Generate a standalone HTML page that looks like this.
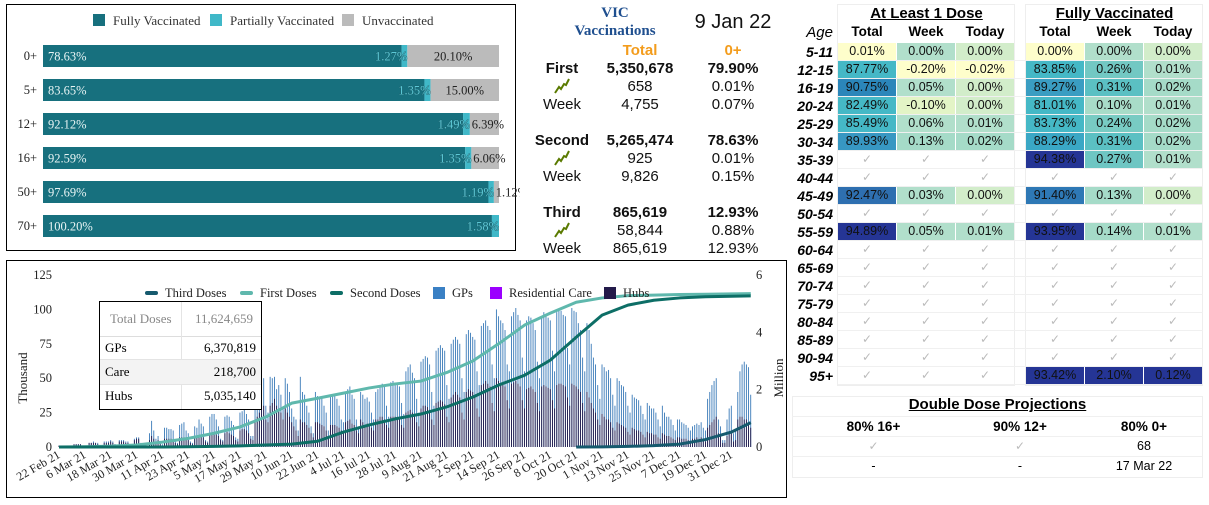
<!DOCTYPE html>
<html><head><meta charset="utf-8">
<style>
body{margin:0;width:1209px;height:505px;background:#fff;position:relative;overflow:hidden;font-family:"Liberation Sans",sans-serif;}
.abs{position:absolute;}
.box{position:absolute;border:1.5px solid #000;box-sizing:border-box;}
.mid{position:absolute;text-align:center;font-size:15px;color:#111;}
.b{font-weight:bold;}
.cell{position:absolute;height:17px;line-height:17px;text-align:center;font-size:12.5px;color:#111;}
.age{position:absolute;width:50px;text-align:right;font-weight:bold;font-style:italic;font-size:14px;height:18px;line-height:18px;}
.chk{color:#bbb;font-size:12px;}
.hd{position:absolute;text-align:center;font-weight:bold;font-size:13.5px;}
</style></head><body>

<!-- TOP LEFT BAR CHART -->
<div class="box" style="left:6px;top:4px;width:510px;height:247px;"></div>
<svg class="abs" id="barsvg" style="left:0;top:0" width="520" height="255"></svg>

<!-- MIDDLE STATS -->
<div class="mid" style="left:560px;top:4px;width:110px;font-family:'Liberation Serif',serif;font-weight:bold;color:#1f4f8f;font-size:15px;line-height:18px;">VIC<br>Vaccinations</div>
<div class="mid" style="left:685px;top:11px;width:96px;font-size:20px;">9 Jan 22</div>
<div class="mid b" style="left:600px;top:42px;width:80px;color:#f39c1c;">Total</div>
<div class="mid b" style="left:700px;top:42px;width:66px;color:#f39c1c;">0+</div>
<div id="stats"></div>

<!-- RIGHT TABLE -->
<div id="tbl"></div>

<!-- BOTTOM CHART -->
<div class="box" style="left:6px;top:260px;width:781px;height:238px;"></div>
<svg class="abs" id="dsvg" style="left:0;top:255px" width="790" height="250"></svg>

<div class="abs" style="left:99px;top:301px;width:163px;height:109px;border:1px solid #000;box-sizing:border-box;background:#fff;font-family:'Liberation Serif',serif;font-size:13px;">
  <div class="abs" style="left:0;top:0;width:161px;height:34px;border-bottom:1px solid #ddd;color:#888;"><span class="abs" style="left:10px;top:9px">Total Doses</span><span class="abs" style="right:8px;top:9px">11,624,659</span></div>
  <div class="abs" style="left:81px;top:0;width:1px;height:107px;background:#e4e4e4"></div>
  <div class="abs" style="left:0;top:34px;width:161px;height:23px;"><span class="abs" style="left:5px;top:4px">GPs</span><span class="abs" style="right:5px;top:4px">6,370,819</span></div>
  <div class="abs" style="left:0;top:57px;width:161px;height:24px;background:#f3f3f3;border-top:1px solid #e4e4e4;border-bottom:1px solid #e4e4e4"><span class="abs" style="left:5px;top:4px">Care</span><span class="abs" style="right:5px;top:4px">218,700</span></div>
  <div class="abs" style="left:0;top:82px;width:161px;height:24px;"><span class="abs" style="left:5px;top:4px">Hubs</span><span class="abs" style="right:5px;top:4px">5,035,140</span></div>
</div>

<script>
// ---------- top bar chart ----------
const ageGroups=["0+","5+","12+","16+","50+","70+"];
const fullyPct=[78.63,83.65,92.12,92.59,97.69,100.20];
const partialPct=[1.27,1.35,1.49,1.35,1.19,1.58];
const unvaccPct=[20.10,15.00,6.39,6.06,1.12,0];
const NS="http://www.w3.org/2000/svg";
function mk(svg,tag,attrs,txt){const e=document.createElementNS(NS,tag);for(const k in attrs)e.setAttribute(k,attrs[k]);if(txt!==undefined)e.textContent=txt;svg.appendChild(e);return e;}
(function(){
 const s=document.getElementById('barsvg');
 const x0=43,W=456;
 const yC=i=>56+i*34;
 const leg=[["Fully Vaccinated","#17707e",93],["Partially Vaccinated","#40b8c8",210],["Unvaccinated","#bbbbbb",342]];
 leg.forEach(l=>{const r=mk(s,'rect',{x:l[2],y:14,width:12,height:12,fill:l[1]});
  
  const t=mk(s,'text',{x:l[2]+20,y:25,'font-family':'Liberation Serif, serif','font-size':13,fill:'#333'},l[0]);
  });
 ageGroups.forEach((g,i)=>{
  const tot=fullyPct[i]+partialPct[i]+unvaccPct[i];
  const sc=v=>v/tot*W;
  const y=yC(i)-11;
  const wf=sc(fullyPct[i]),wp=sc(partialPct[i]),wu=sc(unvaccPct[i]);
  const lab=mk(s,'text',{x:37,y:yC(i)+4,'text-anchor':'end','font-family':'Liberation Serif, serif','font-size':12.5,fill:'#222'},g);
  
  const r1=mk(s,'rect',{x:x0,y:y,width:wf,height:22,fill:'#17707e'});
  
  const r2=mk(s,'rect',{x:x0+wf,y:y,width:wp,height:22,fill:'#40b8c8'});
  
  const r3=mk(s,'rect',{x:x0+wf+wp,y:y,width:wu,height:22,fill:'#bbbbbb'});
  
  const f='Liberation Serif, serif';
  const t1=mk(s,'text',{x:x0+5,y:yC(i)+4.5,'font-family':f,'font-size':12.5,fill:'#e8f4f4'},fullyPct[i].toFixed(2)+"%");
  
  const t2=mk(s,'text',{x:x0+wf+wp,y:yC(i)+4.5,'text-anchor':'end','font-family':f,'font-size':12.5,fill:'#5cc8d6',stroke:'#1b5d68','stroke-width':0.8,'paint-order':'stroke'},partialPct[i].toFixed(2)+"%");
  
  if(unvaccPct[i]>0){
   const cx=wu>40?x0+wf+wp+wu/2:x0+wf+wp+18;
   const t3=mk(s,'text',{x:cx,y:yC(i)+4.5,'text-anchor':'middle','font-family':f,'font-size':12.5,fill:'#222'},unvaccPct[i].toFixed(2)+"%");
   
  }
 });
})();

// ---------- middle stats ----------
(function(){
 const rows=[["First","5,350,678","79.90%","658","0.01%","4,755","0.07%",69],
             ["Second","5,265,474","78.63%","925","0.01%","9,826","0.15%",141],
             ["Third","865,619","12.93%","58,844","0.88%","865,619","12.93%",213]];
 const c=document.getElementById('stats');
 let h='';
 rows.forEach(r=>{const y=r[7];
  h+=`<div class="mid b" style="left:522px;top:${y-9}px;width:80px">${r[0]}</div>`;
  h+=`<div class="mid b" style="left:590px;top:${y-9}px;width:100px">${r[1]}</div>`;
  h+=`<div class="mid b" style="left:690px;top:${y-9}px;width:86px">${r[2]}</div>`;
  h+=`<svg class="abs" style="left:554px;top:${y+9}px" width="16" height="16"><polyline points="1,15 5,9 7,11 10,6 12,7 15,1" fill="none" stroke="#5a7a00" stroke-width="2"/></svg>`;
  h+=`<div class="mid" style="left:590px;top:${y+9}px;width:100px">${r[3]}</div>`;
  h+=`<div class="mid" style="left:690px;top:${y+9}px;width:86px">${r[4]}</div>`;
  h+=`<div class="mid" style="left:522px;top:${y+27}px;width:80px">Week</div>`;
  h+=`<div class="mid" style="left:590px;top:${y+27}px;width:100px">${r[5]}</div>`;
  h+=`<div class="mid" style="left:690px;top:${y+27}px;width:86px">${r[6]}</div>`;
 });
 c.innerHTML=h;
})();

// ---------- right table ----------
(function(){
 const ages=["5-11","12-15","16-19","20-24","25-29","30-34","35-39","40-44","45-49","50-54","55-59","60-64","65-69","70-74","75-79","80-84","85-89","90-94","95+"];
 const C="✓";
 const vals=[
 [["0.01%","#fefecb"],["0.00%","#b1dfcb"],["0.00%","#d2edca"],["0.00%","#fefecb"],["0.00%","#b1dfcb"],["0.00%","#d2edca"]],
 [["87.77%","#45b8c6"],["-0.20%","#fefecb"],["-0.02%","#fefecb"],["83.85%","#45b8c6"],["0.26%","#72c8c3"],["0.01%","#b1dfcb"]],
 [["90.75%","#2b86ba"],["0.05%","#b1dfcb"],["0.00%","#d2edca"],["89.27%","#3a9dc2"],["0.31%","#5bc0c3"],["0.02%","#a5dbc8"]],
 [["82.49%","#45b8c6"],["-0.10%","#e3f4c6"],["0.00%","#d2edca"],["81.01%","#45b8c6"],["0.10%","#a8dcc8"],["0.01%","#b1dfcb"]],
 [["85.49%","#45b8c6"],["0.06%","#b1dfcb"],["0.01%","#b1dfcb"],["83.73%","#45b8c6"],["0.24%","#78cbc3"],["0.02%","#a5dbc8"]],
 [["89.93%","#3797c2"],["0.13%","#a5dbc8"],["0.02%","#a5dbc8"],["88.29%","#3aa7c5"],["0.31%","#5bc0c3"],["0.02%","#a5dbc8"]],
 [[C],[C],[C],["94.38%","#253595"],["0.27%","#6ec6c3"],["0.01%","#b1dfcb"]],
 [[C],[C],[C],[C],[C],[C]],
 [["92.47%","#2e6fb0"],["0.03%","#b1dfcb"],["0.00%","#d2edca"],["91.40%","#2e78b5"],["0.13%","#a5dbc8"],["0.00%","#d2edca"]],
 [[C],[C],[C],[C],[C],[C]],
 [["94.89%","#253595"],["0.05%","#b1dfcb"],["0.01%","#b1dfcb"],["93.95%","#253595"],["0.14%","#a5dbc8"],["0.01%","#b1dfcb"]],
 [[C],[C],[C],[C],[C],[C]],[[C],[C],[C],[C],[C],[C]],[[C],[C],[C],[C],[C],[C]],[[C],[C],[C],[C],[C],[C]],
 [[C],[C],[C],[C],[C],[C]],[[C],[C],[C],[C],[C],[C]],[[C],[C],[C],[C],[C],[C]],
 [[C],[C],[C],["93.42%","#253595"],["2.10%","#253595"],["0.12%","#253595"]]];
 const colX=[838,897,956,1026,1085,1144];
 let h='';
 h+=`<div class="abs" style="left:837px;top:4px;width:178px;height:382px;border:1px solid #eee;box-sizing:border-box"></div>`;
 h+=`<div class="abs" style="left:1025px;top:4px;width:178px;height:382px;border:1px solid #eee;box-sizing:border-box"></div>`;
 h+=`<div class="hd" style="left:838px;top:5px;width:177px;font-size:15px;text-decoration:underline">At Least 1 Dose</div>`;
 h+=`<div class="hd" style="left:1026px;top:5px;width:177px;font-size:15px;text-decoration:underline">Fully Vaccinated</div>`;
 h+=`<div class="abs" style="left:780px;top:24px;width:53px;text-align:right;font-style:italic;font-size:15px">Age</div>`;
 ["Total","Week","Today","Total","Week","Today"].forEach((t,i)=>{h+=`<div class="hd" style="left:${colX[i]}px;top:24px;width:58px">${t}</div>`;});
 ages.forEach((a,r)=>{const y=43+r*18;
  h+=`<div class="age" style="left:783px;top:${y}px">${a}</div>`;
  h+=`<div class="abs" style="left:838px;top:${y+17}px;width:365px;height:1px;background:#f0f0f0"></div>`;
  vals[r].forEach((v,i)=>{
   if(v.length===1) h+=`<div class="cell chk" style="left:${colX[i]}px;top:${y}px;width:58px">${v[0]}</div>`;
   else h+=`<div class="cell" style="left:${colX[i]}px;top:${y}px;width:58px;background:${v[1]}">${v[0]}</div>`;
  });
 });
 h+=`<div class="abs" style="left:792px;top:396px;width:411px;height:82px;border:1px solid #eee;box-sizing:border-box"></div>`;
 h+=`<div class="hd" style="left:792px;top:396px;width:411px;font-size:15px;text-decoration:underline">Double Dose Projections</div>`;
 const px=[[792,163],[955,130],[1085,118]];
 const pr=[["80% 16+","90% 12+","80% 0+"],[C,C,"68"],["-","-","17 Mar 22"]];
 pr.forEach((row,ri)=>{row.forEach((t,ci)=>{
  const st=ri===0?'font-weight:bold;font-size:13.5px':(t===C?'color:#bbb;font-size:12px':'font-size:12.5px');
  h+=`<div class="abs" style="left:${px[ci][0]}px;top:${416+ri*20}px;width:${px[ci][1]}px;height:19px;line-height:19px;text-align:center;border-top:1px solid #f0f0f0;${st}">${t}</div>`;
 });});
 document.getElementById('tbl').innerHTML=h;
})();

// ---------- bottom chart data ----------
const tickLabels=["22 Feb 21","6 Mar 21","18 Mar 21","30 Mar 21","11 Apr 21","23 Apr 21","5 May 21","17 May 21","29 May 21","10 Jun 21","22 Jun 21","4 Jul 21","16 Jul 21","28 Jul 21","9 Aug 21","21 Aug 21","2 Sep 21","14 Sep 21","26 Sep 21","8 Oct 21","20 Oct 21","1 Nov 21","13 Nov 21","25 Nov 21","7 Dec 21","19 Dec 21","31 Dec 21"];
const lineDays=[0,12,24,36,48,60,72,84,96,108,120,132,144,156,168,180,192,204,216,228,240,252,264,276,288,300,312,321];
const firstDosesM=[0,0.01,0.03,0.07,0.17,0.3,0.48,0.7,1.05,1.53,1.7,1.88,2.06,2.2,2.3,2.6,3.0,3.6,4.25,4.67,5.05,5.2,5.28,5.3,5.32,5.33,5.34,5.35];
const secondDosesM=[0,0,0,0,0,0.01,0.02,0.04,0.07,0.1,0.2,0.52,0.77,0.98,1.15,1.4,1.74,2.16,2.5,3.03,3.83,4.6,4.95,5.12,5.2,5.24,5.26,5.27];
const thirdDosesM=[null,null,null,null,null,null,null,null,null,null,null,null,null,null,null,null,null,null,null,null,0,0.005,0.02,0.05,0.1,0.26,0.52,0.85];
const dailyTotalK=[
1,1,1,1,1,0.5,0.3, 2,2,2,2,1,1,0.5, 3,3,4,3,3,1,1, 4,4,4,5,4,2,1, 5,5,5,4,4,2,1, 6,7,7,3,2,2,1,
10,19,12,6,8,3,2, 14,14,13,13,12,4,3, 16,17,18,12,10,4,3, 15,14,20,17,15,5,4, 22,24,24,20,15,6,5, 22,23,22,19,16,7,6,
25,26,27,24,20,8,8, 30,42,45,48,50,30,25, 51,50,51,42,45,38,28, 50,46,40,28,22,20,12, 51,40,38,30,25,15,10, 40,37,35,36,30,25,12,
38,38,38,35,30,20,18, 40,42,44,38,35,20,15, 40,38,35,36,33,25,20, 40,42,44,46,44,30,22, 47,48,46,45,44,32,24, 55,58,60,54,50,35,25,
62,64,66,65,60,40,30, 70,72,74,72,70,45,35, 75,78,80,78,75,50,40, 82,85,83,80,78,55,45, 88,90,92,88,85,60,50, 100,95,92,90,85,60,55,
95,98,101,96,92,65,55, 92,95,94,90,85,62,50, 95,98,96,94,92,70,55, 98,100,99,96,95,72,60, 101,99,98,90,85,65,55, 90,85,75,65,60,45,35,
60,58,55,56,50,38,30, 50,48,45,44,40,30,25, 38,36,35,34,30,24,20, 32,30,28,28,25,20,15, 30,25,22,22,20,16,12, 20,20,18,17,16,14,12,
15,16,17,16,18,14,12, 35,40,45,48,50,20,15, 5,5,20,28,30,10,12, 40,55,60,62,60,58,38];
const dailyHubsK=[
1,1,1,1,1,0.5,0.3, 2,2,2,2,1,1,0.5, 3,3,3,3,2,1,1, 3,3,3,4,3,2,1, 4,4,4,3,3,2,1, 5,6,6,2,2,2,1,
5,8,6,4,5,2,1, 6,6,6,6,5,3,2, 7,7,7,6,5,3,2, 7,7,8,8,7,4,3, 10,10,10,9,8,5,4, 10,11,10,9,8,5,4,
12,13,13,12,10,6,5, 18,22,25,28,30,20,18, 30,32,35,30,28,25,20, 28,25,22,18,15,12,8, 20,18,18,16,14,10,7, 18,18,17,16,15,12,8,
16,16,16,15,14,12,10, 18,19,20,17,16,12,10, 20,18,16,17,16,14,12, 20,20,22,22,20,16,14, 22,22,22,21,20,16,14, 25,26,27,25,24,18,15,
28,30,30,29,27,20,16, 32,33,34,33,31,22,18, 36,38,40,38,36,25,20, 40,42,41,40,38,28,22, 45,46,48,46,44,32,26, 50,48,46,45,44,34,28,
46,47,48,46,44,34,28, 42,43,44,42,40,32,26, 44,45,44,43,42,34,28, 45,46,46,45,44,36,30, 46,45,44,42,40,32,26, 40,36,32,28,25,20,16,
24,22,20,20,18,14,12, 18,17,16,15,14,11,9, 14,13,12,12,11,9,7, 11,10,10,9,9,7,6, 10,9,8,8,7,6,5, 7,7,6,6,6,5,4,
6,6,7,6,7,5,4, 14,16,18,20,22,10,8, 3,3,8,10,10,4,5, 20,22,22,20,20,18,14];
const leftTicks=[0,25,50,75,100,125];
const rightTicks=[0,2,4,6];

(function(){
 const s=document.getElementById('dsvg');
 const oy=255;
 const X=d=>59+d*2.155;
 const YL=v=>447-oy-v*(172/125);
 const YR=v=>447-oy-v*(172/6);
 const f='Liberation Serif, serif';
 leftTicks.forEach(v=>{const t=mk(s,'text',{x:52,y:YL(v)+4,'text-anchor':'end','font-family':f,'font-size':12.5,fill:'#222'},v);
  });
 rightTicks.forEach(v=>{const t=mk(s,'text',{x:756,y:YR(v)+4,'font-family':f,'font-size':12.5,fill:'#222'},v);
  });
 const yt=mk(s,'text',{x:0,y:0,transform:`translate(27,${378-oy}) rotate(-90)`,'text-anchor':'middle','font-family':f,'font-size':13,fill:'#222'},'Thousand');
 
 const yr=mk(s,'text',{x:0,y:0,transform:`translate(783,${378-oy}) rotate(-90)`,'text-anchor':'middle','font-family':f,'font-size':13,fill:'#222'},'Million');
 
 tickLabels.forEach((l,i)=>{const d=lineDays[i];
  const t=mk(s,'text',{x:0,y:0,transform:`translate(${X(d)+2},${457-oy}) rotate(-30)`,'text-anchor':'end','font-family':f,'font-size':12,fill:'#222'},l);
  });
 dailyTotalK.forEach((v,d)=>{
  const b=mk(s,'rect',{x:X(d)-0.5,y:YL(v),width:0.9,height:YL(0)-YL(v),fill:'#3a7ab8'});
  
  const h=dailyHubsK[d];
  const c=mk(s,'rect',{x:X(d)-0.5,y:YL(h),width:0.9,height:YL(0)-YL(h),fill:'#231a4a'});
  
 });
 function line(arr,col,w,name){let p=[];arr.forEach((v,i)=>{if(v!==null)p.push(X(lineDays[i])+','+YR(v));});
  const l=mk(s,'polyline',{points:p.join(' '),fill:'none',stroke:col,'stroke-width':w,'stroke-linejoin':'round'});
  }
 line(firstDosesM,'#5fb8ad',3,'line-first-doses');
 line(secondDosesM,'#0d6e66',3,'line-second-doses');
 line(thirdDosesM,'#165a6e',3,'line-third-doses');
 const ly=293-oy;
 const lg=[["Third Doses",'#165a6e',145,'line'],["First Doses",'#5fb8ad',240,'line'],["Second Doses",'#0d6e66',330,'line'],["GPs",'#3a80c4',433,'sq'],["Residential Care",'#9b00ff',490,'sq'],["Hubs",'#231a4a',604,'sq']];
 lg.forEach(g=>{
  let m;
  if(g[3]==='line') m=mk(s,'rect',{x:g[2],y:ly-2,width:13,height:4,rx:2,fill:g[1]});
  else m=mk(s,'rect',{x:g[2],y:ly-6,width:12,height:12,fill:g[1]});
  
  const t=mk(s,'text',{x:g[2]+(g[3]==='line'?20:19),y:ly+4,'font-family':f,'font-size':12.5,fill:'#222'},g[0]);
  
 });
})();
</script>
</body></html>
